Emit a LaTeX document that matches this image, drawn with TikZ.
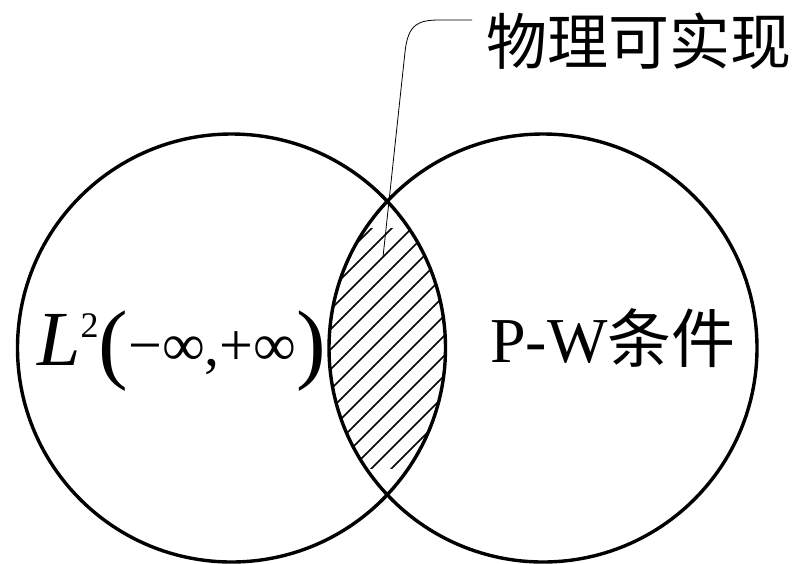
\documentclass[tikz,border=0pt]{standalone}
\usepackage{fontspec}
\setmainfont{Liberation Serif}
\newfontfamily\cjk{Noto Sans CJK SC}
\begin{document}
\begin{tikzpicture}[x=1pt,y=-1pt,
  setcircle/.style={line width=3.4pt},
  hatchline/.style={line width=1.6pt},
  leader/.style={line width=0.8pt},
  lbl/.style={anchor=base west, inner sep=0pt}]
\useasboundingbox (0,0) rectangle (800,563);
\coordinate (cl) at (231.5,348);
\coordinate (cr) at (543,348);
% hatching of the intersection
\begin{scope}
  \clip (cl) circle (214);
  \clip (cr) circle (214);
  \clip (300,228) rectangle (480,468);
  \foreach \c in {580,600,...,900}{
    \draw[hatchline] (\c-510,510) -- (\c-180,180);
  }
\end{scope}
\draw[setcircle] (cl) circle (214);
\draw[setcircle] (cr) circle (214);
% labels
\node[lbl] (l2) at (37,365) {\fontsize{78}{78}\selectfont\itshape L\upshape\raisebox{28pt}{\fontsize{36}{36}\selectfont 2}\raisebox{-7pt}{\fontsize{89}{89}\selectfont(}\fontsize{60}{60}\selectfont −∞,+∞\raisebox{-7pt}{\fontsize{89}{89}\selectfont)}};
\node[lbl] (pw) at (490,362) {\fontsize{64}{64}\selectfont P-W{\cjk 条件}};
\node[lbl] (phys) at (486,64) {\fontsize{61}{61}\selectfont\cjk 物理可实现};
% leader
\coordinate (lstart) at (383,257);
\coordinate (lend) at (472,20);
\draw[leader] (lstart) -- (405,52) .. controls (408,24) and (418,20) .. (440,20) -- (lend);
\end{tikzpicture}
\end{document}
